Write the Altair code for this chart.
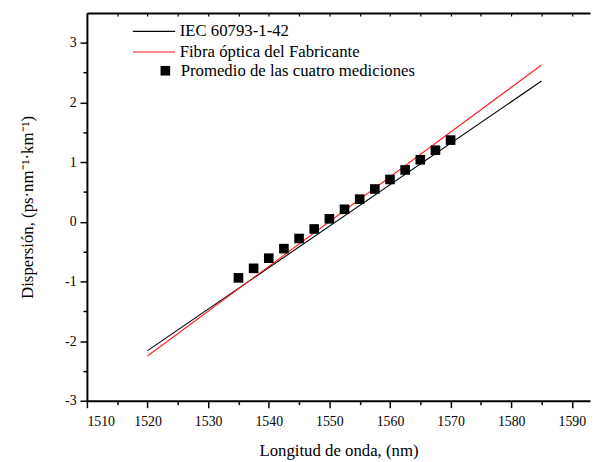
import altair as alt
import pandas as pd

# ---- data ----
series_names = ["IEC 60793-1-42", "Fibra óptica del Fabricante"]
series_colors = ["#000000", "#ff1a1a"]
line_x = [1520, 1585]
iec_y = [-2.16, 2.36]
fab_y = [-2.25, 2.63]

point_label = "Promedio de las cuatro mediciones"
pts_x = [1535, 1537.5, 1540, 1542.5, 1545, 1547.5, 1550, 1552.5, 1555,
         1557.5, 1560, 1562.5, 1565, 1567.5, 1570]
pts_y = [-0.94, -0.78, -0.61, -0.45, -0.28, -0.12, 0.05, 0.21, 0.38,
         0.55, 0.71, 0.87, 1.04, 1.20, 1.37]

x_ticks = list(range(1510, 1591, 5))
y_ticks = [v / 2 for v in range(-6, 7)]

lines_df = pd.DataFrame({
    "serie": [series_names[0]] * 2 + [series_names[1]] * 2,
    "x": line_x + line_x,
    "y": iec_y + fab_y,
})
pts_df = pd.DataFrame({"x": pts_x, "y": pts_y, "serie": [point_label] * len(pts_x)})

FONT = "Liberation Serif, Times New Roman, serif"
xscale = alt.Scale(domain=[1510, 1593], nice=False, zero=False)
yscale = alt.Scale(domain=[-3, 3.5], nice=False, zero=False)

x_axis = alt.Axis(
    values=x_ticks, title="Longitud de onda, (nm)", grid=False,
    labelExpr="datum.value % 10 === 0 ? '' + datum.value : ''",
    tickSize={"condition": {"test": "datum.value % 10 === 0", "value": 7}, "value": 4},
    labelFont=FONT, labelFontSize=14, labelColor="black", labelPadding=7,
    titleFont=FONT, titleFontSize=17, titleFontWeight="normal", titleColor="black",
    titlePadding=15, domainColor="black", domainWidth=2, tickColor="black",
    tickWidth=1.5,
)
y_axis = alt.Axis(
    values=y_ticks, title="Dispersión, (ps·nm⁻¹·km⁻¹)", grid=False,
    labelExpr="datum.value % 1 === 0 ? '' + datum.value : ''",
    tickSize={"condition": {"test": "datum.value % 1 === 0", "value": 7}, "value": 4},
    labelFont=FONT, labelFontSize=14, labelColor="black", labelPadding=4,
    titleFont=FONT, titleFontSize=17, titleFontWeight="normal", titleColor="black",
    titlePadding=29, domainColor="black", domainWidth=2, tickColor="black",
    tickWidth=1.5,
)

lines = alt.Chart(lines_df).mark_line(strokeWidth=1.1).encode(
    x=alt.X("x:Q", scale=xscale, axis=x_axis),
    y=alt.Y("y:Q", scale=yscale, axis=y_axis),
    color=alt.Color(
        "serie:N",
        scale=alt.Scale(domain=series_names, range=series_colors),
        legend=alt.Legend(
            title=None, orient="none", legendX=59.5, legendY=10,
            symbolType="M-4.3,0H4.3", symbolSize=100, symbolStrokeWidth=1.2,
            labelFont=FONT, labelFontSize=17, labelColor="black", labelLimit=0,
            labelOffset=17.5, rowPadding=3, padding=0,
        ),
    ),
    detail="serie:N",
)

points = alt.Chart(pts_df).mark_point(
    shape="square", filled=True, size=95, color="black", opacity=1
).encode(
    x=alt.X("x:Q", scale=xscale, axis=None),
    y=alt.Y("y:Q", scale=yscale, axis=None),
    shape=alt.Shape(
        "serie:N",
        scale=alt.Scale(domain=[point_label], range=["square"]),
        legend=alt.Legend(
            title=None, orient="none", legendX=71, legendY=50,
            symbolSize=95, symbolFillColor="black", symbolStrokeColor="black",
            symbolOpacity=1,
            labelFont=FONT, labelFontSize=17, labelColor="black", labelLimit=0,
            labelOffset=7, padding=0,
        ),
    ),
)

top_ticks = alt.Chart(pts_df).mark_point(opacity=0).encode(
    x=alt.X("x:Q", scale=xscale, axis=alt.Axis(
        orient="top", values=x_ticks, labels=False, domain=False, title=None,
        tickSize=3, offset=-3, tickColor="black", tickWidth=1.2, grid=False)),
)
top_line = alt.Chart(pts_df).mark_point(opacity=0).encode(
    x=alt.X("x:Q", scale=xscale, axis=alt.Axis(
        orient="top", labels=False, ticks=False, domain=True, title=None,
        domainColor="black", domainWidth=2, grid=False)),
)

chart = alt.layer(lines, points, top_ticks, top_line).resolve_axis(
    x="independent", y="independent"
).resolve_legend(color="independent", shape="independent").properties(
    width=510, height=393,
    autosize=alt.AutoSizeParams(type="none"),
    padding={"left": 80, "top": 2, "right": 1, "bottom": 60},
).configure_view(stroke=None)

chart.save("out.html", embed_options={"renderer": "svg", "actions": False})
